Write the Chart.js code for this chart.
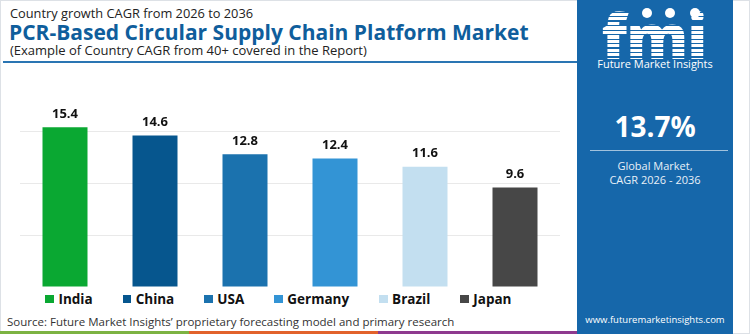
<!DOCTYPE html>
<html>
<head>
<meta charset="utf-8">
<script src="https://cdn.jsdelivr.net/npm/chart.js@4.4.1/dist/chart.umd.min.js"></script>
<style>
  html, body { margin: 0; padding: 0; }
  body {
    width: 750px; height: 334px; position: relative; overflow: hidden;
    background: #fff; font-family: 'Open Sans', sans-serif; color: #222;
  }
  .frame { position: absolute; left: 0; top: 0; width: 748px; height: 332px; border: 1px solid #dde1e6; }
  .txt { position: absolute; white-space: nowrap; line-height: 1; }
  .sub1 { left: 10px; top: 7px; font-size: 12.8px; color: #222; }
  .title { left: 9px; top: 22px; font-size: 21px; font-weight: 700; color: #0f5e9c; }
  .sub2 { left: 10px; top: 44px; font-size: 13px; color: #222; }
  .rule { position: absolute; left: 3px; top: 61px; width: 574px; height: 2px; background: #2a75b3; }
  #chartBox { position: absolute; left: 0; top: 64px; width: 577px; height: 223px; }
  #legend {
    position: absolute; left: 0; top: 291px; width: 557px; height: 16px;
    display: flex; justify-content: center; align-items: center; gap: 30px;
  }
  .lg-item { display: flex; align-items: center; font-size: 13.5px; font-weight: 700; color: #111; }
  .lg-box { width: 8.5px; height: 8.5px; margin-right: 4.5px; }
  .source { left: 7px; top: 316px; font-size: 11.5px; color: #333; }
  .strip { position: absolute; top: 331px; height: 3px; }
  .panel { position: absolute; left: 577px; top: 0; width: 156px; height: 334px; background: #1667aa; }
  .logo {
    position: absolute; left: 598px; top: 4px; width: 112px; text-align: center;
    font-size: 62px; font-weight: 800; line-height: 1; letter-spacing: -1px;
    background: repeating-linear-gradient(to bottom, #fff 0 3px, #1667aa 3px 4.5px);
    -webkit-background-clip: text; background-clip: text; color: transparent;
  }
  .globe { position: absolute; top: 8px; width: 10px; height: 10px; border-radius: 50%; background: #fff; }
  .logo-name { left: 577px; width: 156px; text-align: center; top: 58px; font-size: 11px; color: #fff; }
  .big { left: 577px; width: 156px; text-align: center; top: 112px; font-size: 28px; font-weight: 700; color: #fff; }
  .prule { position: absolute; left: 590px; top: 150px; width: 138px; height: 1px; background: rgba(255,255,255,0.6); }
  .glob { left: 577px; width: 156px; text-align: center; font-size: 11px; color: #e8f0f8; }
  .web { left: 577px; width: 156px; text-align: center; top: 315px; font-size: 9.5px; color: #fff; }
</style>
</head>
<body>
<div class="frame"></div>

<div class="txt sub1">Country growth CAGR from 2026 to 2036</div>
<div class="txt title">PCR-Based Circular Supply Chain Platform Market</div>
<div class="txt sub2">(Example of Country CAGR from 40+ covered in the Report)</div>
<div class="rule"></div>

<div id="chartBox"><canvas id="barChart"></canvas></div>
<div id="legend"></div>

<div class="txt source">Source: Future Market Insights’ proprietary forecasting model and primary research</div>
<div class="strip" style="left:0;width:189px;background:#7cb342"></div>
<div class="strip" style="left:189px;width:189px;background:#e2622b"></div>
<div class="strip" style="left:378px;width:199px;background:#8e3a8f"></div>

<div class="panel"></div>
<div class="logo">fmi</div>
<div class="globe" style="left:642px"></div>
<div class="globe" style="left:665px"></div>
<div class="globe" style="left:690px"></div>
<div class="txt logo-name">Future Market Insights</div>
<div class="txt big">13.7%</div>
<div class="prule"></div>
<div class="txt glob" style="top:160px">Global Market,</div>
<div class="txt glob" style="top:174px">CAGR 2026 - 2036</div>
<div class="txt web">www.futuremarketinsights.com</div>

<script>
const countries = ['India', 'China', 'USA', 'Germany', 'Brazil', 'Japan'];
const cagr = [15.4, 14.6, 12.8, 12.4, 11.6, 9.6];
const barColors = ['#0aa832', '#06568e', '#1b72ae', '#3394d5', '#c3dff0', '#474747'];
const yTicks = [0, 5, 10, 15];

// value above each bar
const valueLabels = {
  id: 'valueLabels',
  afterDatasetsDraw(chart) {
    const ctx = chart.ctx;
    const meta = chart.getDatasetMeta(0);
    ctx.save();
    ctx.font = 'bold 13px "Open Sans"';
    ctx.fillStyle = '#111';
    ctx.textAlign = 'center';
    ctx.textBaseline = 'middle';
    meta.data.forEach((bar, i) => {
      ctx.fillText(cagr[i].toFixed(1), bar.x, bar.y - 13);
    });
    ctx.restore();
  }
};

new Chart(document.getElementById('barChart').getContext('2d'), {
  type: 'bar',
  data: {
    labels: countries,
    datasets: [{
      data: cagr,
      backgroundColor: barColors,
      borderWidth: 0,
      categoryPercentage: 1,
      barPercentage: 0.5,
    }]
  },
  options: {
    responsive: true,
    maintainAspectRatio: false,
    animation: false,
    layout: { padding: { top: 46.7, left: 20, right: 17, bottom: 0 } },
    plugins: { legend: { display: false }, tooltip: { enabled: false } },
    scales: {
      x: { display: false },
      y: {
        min: 0,
        max: 17,
        afterBuildTicks: (scale) => { scale.ticks = yTicks.map(v => ({ value: v })); },
        ticks: { display: false },
        border: { display: false },
        grid: { color: '#e9e9e9', lineWidth: 1, drawTicks: false },
      }
    }
  },
  plugins: [valueLabels]
});

// html legend built from the same arrays
const legendEl = document.getElementById('legend');
countries.forEach((c, i) => {
  const item = document.createElement('div');
  item.className = 'lg-item';
  item.innerHTML = '<span class="lg-box" style="background:' + barColors[i] + '"></span>' + c;
  legendEl.appendChild(item);
});
</script>
</body>
</html>
